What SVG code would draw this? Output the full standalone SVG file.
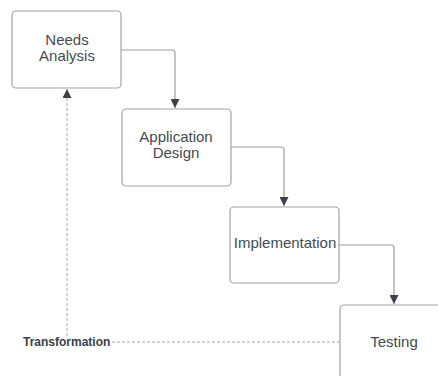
<svg xmlns="http://www.w3.org/2000/svg" width="438" height="376" viewBox="0 0 438 376">
  <style>
    .box { fill: #ffffff; stroke: #a3a3a3; stroke-width: 1.2; }
    .lbl { font-family: "Liberation Sans", Arial, sans-serif; font-size: 15px; fill: #454b53; text-anchor: middle; }
    .edge { fill: none; stroke: #9e9e9e; stroke-width: 1.2; }
    .dash { fill: none; stroke: #a6a6a6; stroke-width: 1; stroke-dasharray: 3 2; }
    .tag { font-family: "Liberation Sans", Arial, sans-serif; font-size: 12px; font-weight: bold; fill: #3a414a; }
  </style>
  <defs>
    <marker id="arrow" viewBox="0 0 10 10" refX="10" refY="5" markerWidth="9" markerHeight="9" markerUnits="userSpaceOnUse" orient="auto">
      <path d="M0,0 L10,5 L0,10 Z" fill="#3a414a"/>
    </marker>
  </defs>

  <rect width="438" height="376" fill="#ffffff"/>

  <g id="connectors">
    <path class="edge" d="M121,50 H172 Q175,50 175,53 V108" marker-end="url(#arrow)"/>
    <path class="edge" d="M231,147 H281 Q284,147 284,150 V206" marker-end="url(#arrow)"/>
    <path class="edge" d="M339,245 H391 Q394,245 394,248 V304" marker-end="url(#arrow)"/>
    <path class="dash" d="M340,342 H112"/>
    <path class="dash" d="M67,336 V89" marker-end="url(#arrow)"/>
  </g>

  <g id="needs-analysis">
    <rect class="box" x="12" y="11" width="109" height="77" rx="4"/>
    <text class="lbl" x="67" y="45">Needs</text>
    <text class="lbl" x="67" y="61">Analysis</text>
  </g>

  <g id="application-design">
    <rect class="box" x="122" y="109" width="109" height="77" rx="4"/>
    <text class="lbl" x="176" y="142">Application</text>
    <text class="lbl" x="176" y="158">Design</text>
  </g>

  <g id="implementation">
    <rect class="box" x="230" y="207" width="109" height="76" rx="4"/>
    <text class="lbl" x="285" y="248">Implementation</text>
  </g>

  <g id="testing">
    <rect class="box" x="340" y="305" width="109" height="80" rx="4"/>
    <text class="lbl" x="394" y="347">Testing</text>
  </g>

  <g id="transformation">
    <text class="tag" x="23" y="346">Transformation</text>
  </g>
</svg>
